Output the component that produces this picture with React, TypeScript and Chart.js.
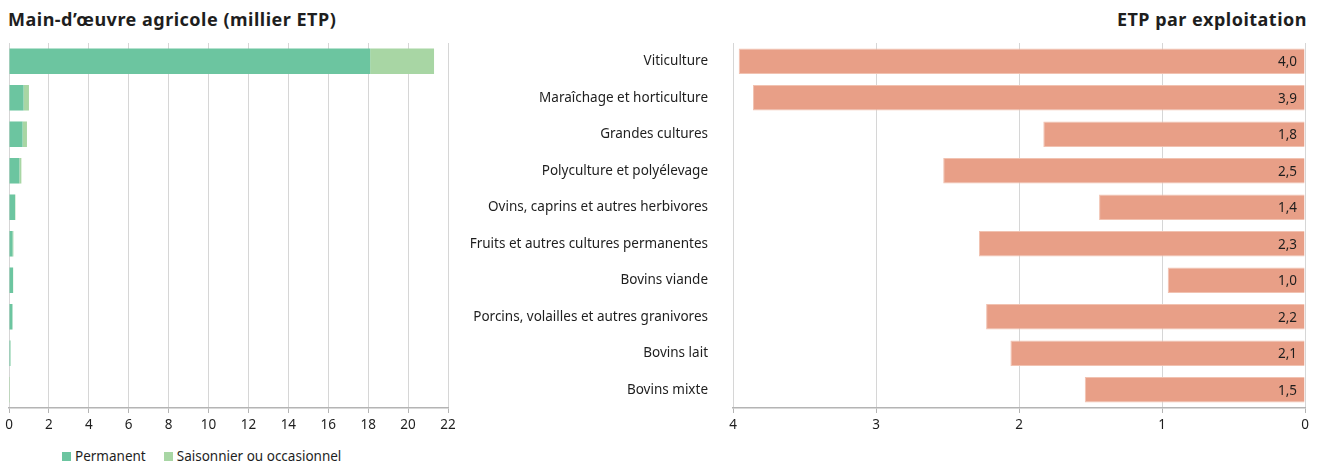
import React, { useEffect, useRef } from "react";
import { Chart, registerables } from "chart.js";

Chart.register(...registerables);

const FONT = "'Noto Sans', sans-serif";
const TEXT = "#1e1e1e";
const FS = 13.5;

const categories = [
  "Viticulture",
  "Maraîchage et horticulture",
  "Grandes cultures",
  "Polyculture et polyélevage",
  "Ovins, caprins et autres herbivores",
  "Fruits et autres cultures permanentes",
  "Bovins viande",
  "Porcins, volailles et autres granivores",
  "Bovins lait",
  "Bovins mixte",
];

// Main-d'œuvre agricole (millier ETP)
const permanent = [18.1, 0.73, 0.68, 0.52, 0.3, 0.18, 0.2, 0.17, 0.07, 0.0];
const saisonnier = [3.2, 0.27, 0.22, 0.1, 0.02, 0.04, 0.01, 0.01, 0.01, 0.05];

// ETP par exploitation
const etpParExploitation = [3.96, 3.86, 1.83, 2.53, 1.44, 2.28, 0.96, 2.23, 2.06, 1.54];

const leftAxis = { min: 0, max: 22, step: 2 };
const rightAxis = { min: 0, max: 4, step: 1 };

const legendItems = [
  { label: "Permanent", color: "#6cc5a0" },
  { label: "Saisonnier ou occasionnel", color: "#a8d6a4" },
];

const GRID = "#d6d6d6";
const AXIS = "#b4b4b4";

function LeftChart() {
  const ref = useRef<HTMLCanvasElement>(null);
  useEffect(() => {
    const chart = new Chart(ref.current!, {
      type: "bar",
      data: {
        labels: categories,
        datasets: [
          {
            label: legendItems[0].label,
            data: permanent,
            backgroundColor: legendItems[0].color,
            barPercentage: 0.7,
            categoryPercentage: 1,
          },
          {
            label: legendItems[1].label,
            data: saisonnier,
            backgroundColor: legendItems[1].color,
            barPercentage: 0.7,
            categoryPercentage: 1,
          },
        ],
      },
      options: {
        indexAxis: "y",
        animation: false,
        responsive: false,
        maintainAspectRatio: false,
        layout: { padding: { left: 9, right: 22, top: 5, bottom: 0 } },
        plugins: { legend: { display: false }, tooltip: { enabled: false }, title: { display: false } },
        scales: {
          x: {
            stacked: true,
            min: leftAxis.min,
            max: leftAxis.max,
            ticks: { stepSize: leftAxis.step, font: { family: FONT, size: FS }, color: TEXT, padding: 4 },
            grid: { color: GRID, tickLength: 5, tickColor: AXIS },
            border: { color: AXIS, width: 1.5 },
            afterFit: (s: any) => {
              s.height = 30;
            },
          },
          y: {
            stacked: true,
            ticks: { display: false },
            grid: { display: false, drawTicks: false },
            border: { display: false },
            afterFit: (s: any) => {
              s.width = 0;
              s.paddingTop = 0;
              s.paddingBottom = 0;
            },
          },
        },
      },
    } as any);
    return () => chart.destroy();
  }, []);
  return (
    <canvas
      ref={ref}
      width={470}
      height={400}
      style={{ position: "absolute", left: 0, top: 38, width: 470, height: 400 }}
    />
  );
}

const valueLabels = {
  id: "valueLabels",
  afterDatasetsDraw(chart: any) {
    const ctx = chart.ctx;
    const meta = chart.getDatasetMeta(0);
    const data = chart.data.datasets[0].data as number[];
    const x0 = chart.scales.x.getPixelForValue(0);
    ctx.save();
    ctx.font = `${FS}px ${FONT}`;
    ctx.fillStyle = TEXT;
    ctx.textAlign = "right";
    ctx.textBaseline = "middle";
    meta.data.forEach((bar: any, i: number) => {
      ctx.fillText(data[i].toFixed(1).replace(".", ","), x0 - 8, bar.y + 1);
    });
    ctx.restore();
  },
};

function RightChart() {
  const ref = useRef<HTMLCanvasElement>(null);
  useEffect(() => {
    const chart = new Chart(ref.current!, {
      type: "bar",
      data: {
        labels: categories,
        datasets: [
          {
            label: "ETP par exploitation",
            data: etpParExploitation,
            backgroundColor: "#e89f87",
            borderColor: "#f1c2b1",
            borderWidth: 1,
            barPercentage: 0.7,
            categoryPercentage: 1,
          },
        ],
      },
      options: {
        indexAxis: "y",
        animation: false,
        responsive: false,
        maintainAspectRatio: false,
        layout: { padding: { left: 0, right: 17, top: 5, bottom: 0 } },
        plugins: { legend: { display: false }, tooltip: { enabled: false }, title: { display: false } },
        scales: {
          x: {
            reverse: true,
            min: rightAxis.min,
            max: rightAxis.max,
            ticks: { stepSize: rightAxis.step, font: { family: FONT, size: FS }, color: TEXT, padding: 4 },
            grid: { color: GRID, tickLength: 5, tickColor: AXIS },
            border: { color: AXIS, width: 1.5 },
            afterFit: (s: any) => {
              s.height = 30;
            },
          },
          y: {
            ticks: { font: { family: FONT, size: FS }, color: TEXT, padding: 25 },
            grid: { display: false, drawTicks: false },
            border: { display: false },
            afterFit: (s: any) => {
              s.width = 273;
              s.paddingTop = 0;
              s.paddingBottom = 0;
            },
          },
        },
      },
      plugins: [valueLabels],
    } as any);
    return () => chart.destroy();
  }, []);
  return (
    <canvas
      ref={ref}
      width={862}
      height={400}
      style={{ position: "absolute", left: 460, top: 38, width: 862, height: 400 }}
    />
  );
}

const titleStyle: React.CSSProperties = {
  position: "absolute",
  top: 6,
  fontSize: 18,
  fontWeight: 700,
  letterSpacing: 0.5,
  whiteSpace: "nowrap",
  lineHeight: "26px",
  color: "#1e1e1e",
};

export default function App() {
  return (
    <div
      style={{
        position: "absolute",
        left: 0,
        top: 0,
        width: 1322,
        height: 466,
        background: "#ffffff",
        fontFamily: FONT,
        color: TEXT,
        overflow: "hidden",
      }}
    >
      <div style={{ ...titleStyle, left: 8 }}>Main-d’œuvre agricole (millier ETP)</div>
      <div style={{ ...titleStyle, right: 15 }}>ETP par exploitation</div>
      <LeftChart />
      <RightChart />
      <div
        style={{
          position: "absolute",
          left: 62,
          top: 447,
          display: "flex",
          alignItems: "center",
          fontSize: FS,
          lineHeight: "18px",
          whiteSpace: "nowrap",
        }}
      >
        {legendItems.map((it, i) => (
          <div key={i} style={{ display: "flex", alignItems: "center", marginRight: 18 }}>
            <span
              style={{ display: "inline-block", width: 9, height: 9, background: it.color, marginRight: 4 }}
            />
            <span>{it.label}</span>
          </div>
        ))}
      </div>
    </div>
  );
}
